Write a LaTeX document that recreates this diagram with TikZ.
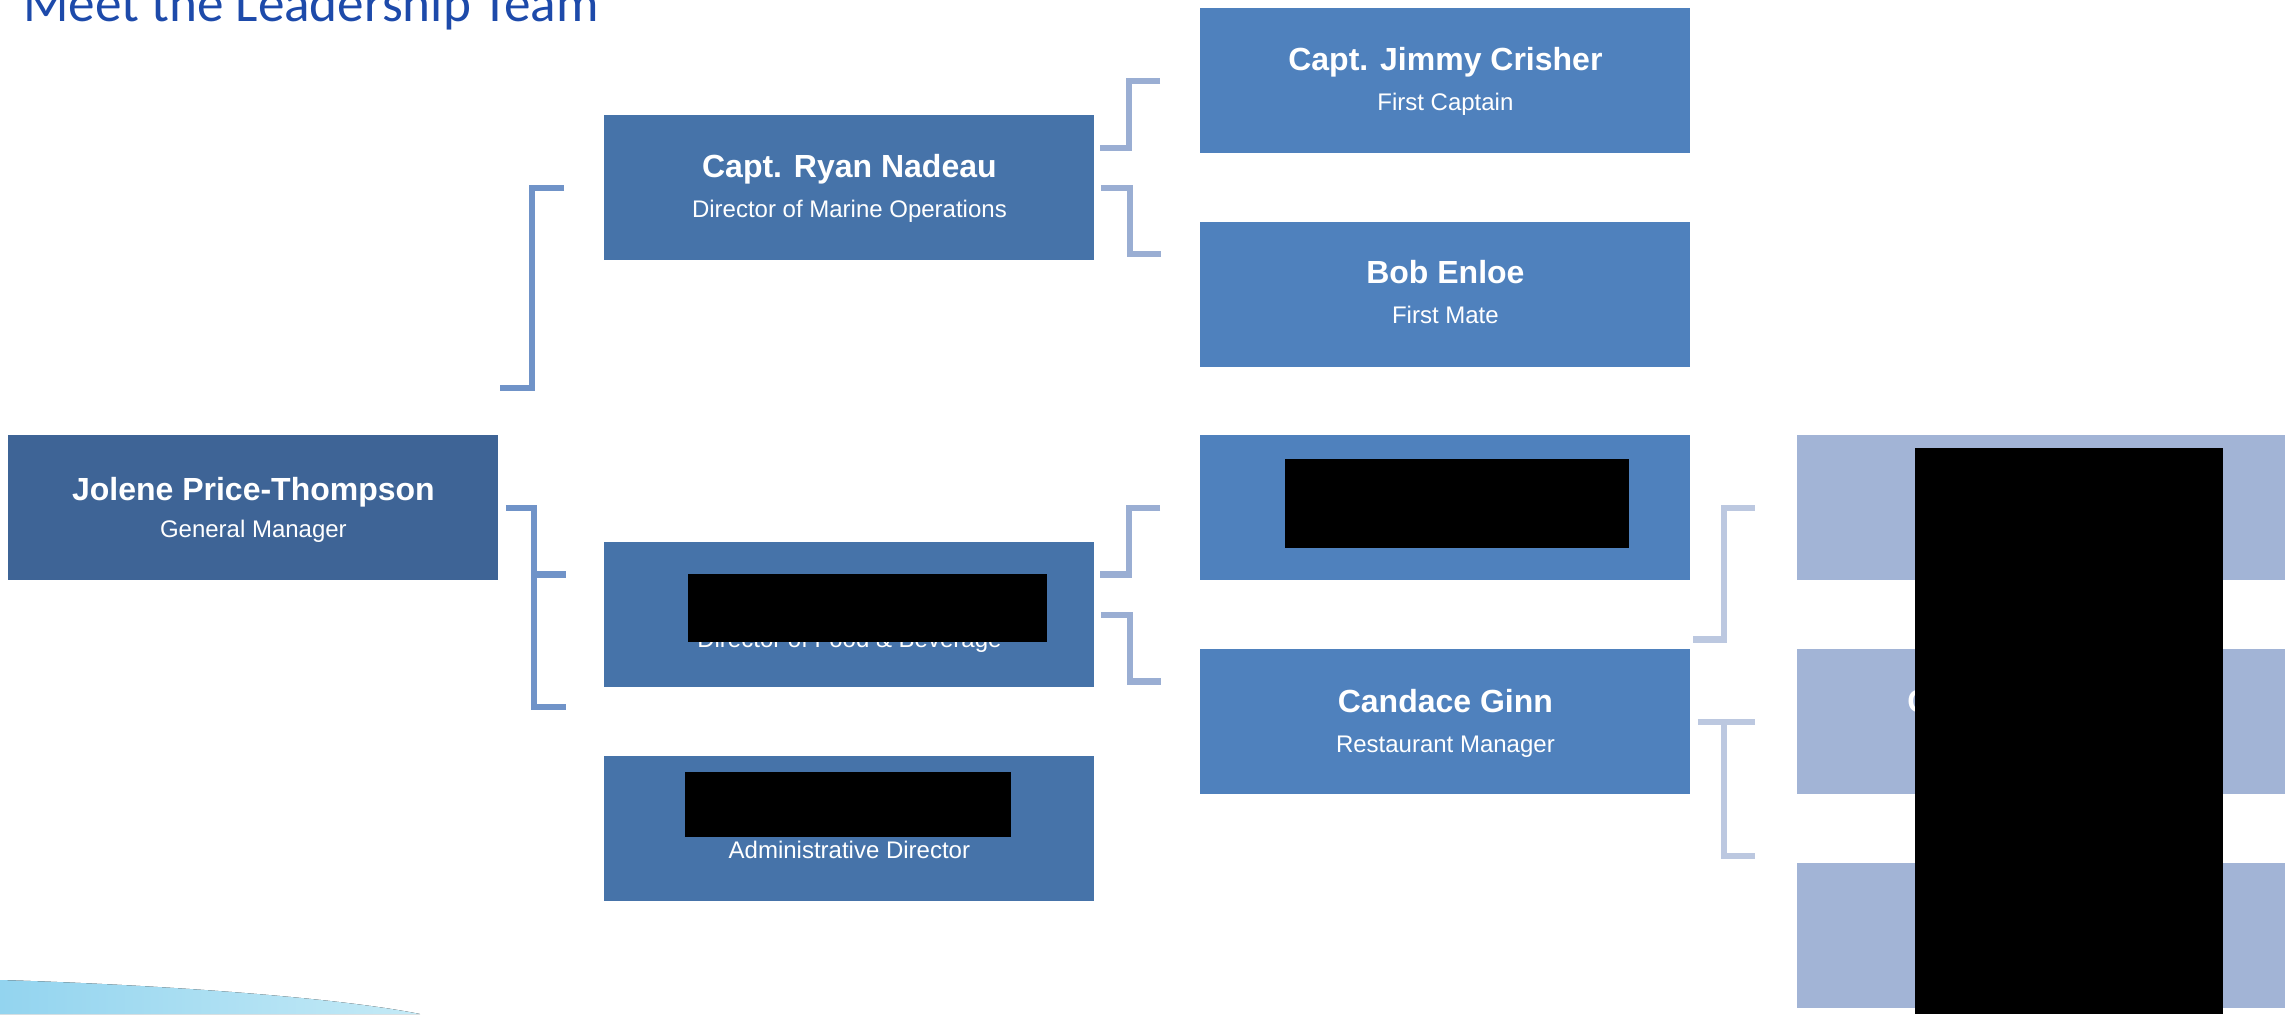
\documentclass[tikz,border=0pt]{standalone}
\usepackage{fontspec}
\setmainfont{Liberation Sans}
\newfontfamily\headfont{Carlito}
\usepackage{tikz}
\usetikzlibrary{calc}
\definecolor{topcolor}{HTML}{3E6496}
\definecolor{levelb}{HTML}{4673A9}
\definecolor{levelc}{HTML}{4F81BD}
\definecolor{leveld}{HTML}{A2B4D6}
\definecolor{bracketb}{HTML}{7093C8}
\definecolor{bracketc}{HTML}{9AAED3}
\definecolor{bracketd}{HTML}{BCC8E0}
\definecolor{headcolor}{HTML}{1D4AAA}
\definecolor{swoosha}{HTML}{93D4EF}
\definecolor{swooshb}{HTML}{C4EAF6}
\tikzstyle{orgbox} = [
    rectangle,
    anchor=north west,
    inner sep=0pt,
    minimum width=245pt,
    minimum height=72.5pt
    ]
\tikzstyle{person} = [
    anchor=base,
    inner sep=0pt,
    text=white,
    font=\fontsize{16}{19}\selectfont\bfseries
    ]
\tikzstyle{role} = [
    anchor=base,
    inner sep=0pt,
    text=white,
    font=\fontsize{12}{14}\selectfont
    ]
\tikzstyle{blackout} = [fill=black, draw=none]
\tikzstyle{bracket} = [line width=3.25pt]

\begin{document}
\begin{tikzpicture}[x=0.5pt, y=-0.5pt]
\useasboundingbox (0,0) rectangle (2285,1014);
\clip (0,0) rectangle (2285,1014);

% heading and swoosh
\node[anchor=base west, inner sep=0pt, text=headcolor,
      font=\headfont\fontsize{26.6}{31}\selectfont] (heading) at (23,21) {Meet the Leadership Team};
\fill[left color=swoosha, right color=swooshb] (0,980) .. controls (140,984) and (330,996) .. (420,1014) -- (0,1014) -- cycle;

% boxes
\node[orgbox, fill=topcolor] (gm) at (8,435) {};
\node[orgbox, fill=levelb] (ryan) at (604,115) {};
\node[orgbox, fill=levelb] (fnb) at (604,542) {};
\node[orgbox, fill=levelb] (admin) at (604,756) {};
\node[orgbox, fill=levelc] (jimmy) at (1200,8) {};
\node[orgbox, fill=levelc] (bob) at (1200,222) {};
\node[orgbox, fill=levelc] (fnbsub) at (1200,435) {};
\node[orgbox, fill=levelc] (candace) at (1200,649) {};
\foreach \row/\name in {435/staffa, 649/staffb, 863/staffc}
    \node[orgbox, fill=leveld] (\name) at (1797,\row) {};

% texts
\node[person] (gmname) at ($(gm.north)+(0,65)$) {Jolene Price-Thompson};
\node[role] (gmrole) at ($(gm.north)+(0,102)$) {General Manager};
\node[person] (ryanname) at ($(ryan.north)+(0,62)$) {Capt. Ryan Nadeau};
\node[role] (ryanrole) at ($(ryan.north)+(0,102)$) {Director of Marine Operations};
\node[role] (fnbrole) at ($(fnb.north)+(0,105)$) {Director of Food \& Beverage};
\node[role] (adminrole) at ($(admin.north)+(0,102)$) {Administrative Director};
\node[person] (jimmyname) at ($(jimmy.north)+(0,62)$) {Capt. Jimmy Crisher};
\node[role] (jimmyrole) at ($(jimmy.north)+(0,102)$) {First Captain};
\node[person] (bobname) at ($(bob.north)+(0,61)$) {Bob Enloe};
\node[role] (bobrole) at ($(bob.north)+(0,101)$) {First Mate};
\node[person] (candacename) at ($(candace.north)+(0,63)$) {Candace Ginn};
\node[role] (candacerole) at ($(candace.north)+(0,103)$) {Restaurant Manager};
\node[person, anchor=base west] (staffbname) at (1907,712) {C};

% redactions
\fill[blackout] (688,574) rectangle (1047,642);
\fill[blackout] (685,772) rectangle (1011,837);
\fill[blackout] (1285,459) rectangle (1629,548);
\fill[blackout] (1915,448) rectangle (2223,1014);

% brackets
\draw[bracket, bracketb] ($(gm.east)+(7,0)$) -- ++(28,0) -- ++(0,199) -- ++(32,0);
\draw[bracket, bracketb] ($(gm.east)+(35,66.5)$) -- ++(32,0);
\draw[bracket, bracketb] ($(ryan.west)+(-40,0)$) -- ++(-32,0) -- ++(0,200) -- ++(-32,0);
\draw[bracket, bracketc] ($(jimmy.west)+(-40,0)$) -- ++(-31,0) -- ++(0,67) -- ++(-29,0);
\draw[bracket, bracketc] ($(ryan.east)+(6,0)$) -- ++(29,0) -- ++(0,66) -- ++(31,0);
\draw[bracket, bracketc] ($(fnbsub.west)+(-40,0)$) -- ++(-31,0) -- ++(0,66.5) -- ++(-29,0);
\draw[bracket, bracketc] ($(fnb.east)+(6,0)$) -- ++(29,0) -- ++(0,66.5) -- ++(31,0);
\draw[bracket, bracketd] ($(fnbsub.east)+(64,0)$) -- ++(-31,0) -- ++(0,131.5) -- ++(-31,0);
\draw[bracket, bracketd] ($(candace.east)+(7,0)$) -- ++(57,0);
\draw[bracket, bracketd] ($(candace.east)+(33,0)$) -- ++(0,134) -- ++(31,0);
\end{tikzpicture}
\end{document}
